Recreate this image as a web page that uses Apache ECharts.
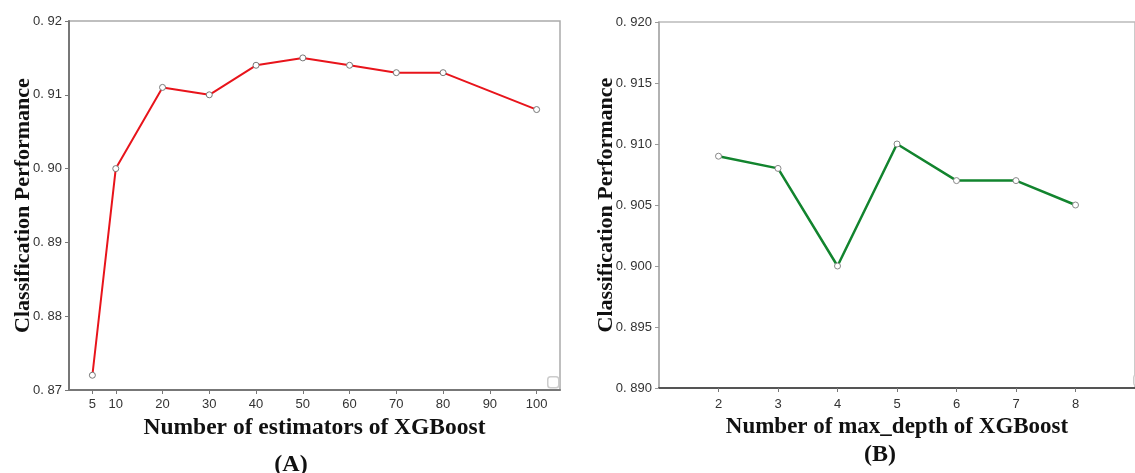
<!DOCTYPE html>
<html>
<head>
<meta charset="utf-8">
<script src="https://cdn.jsdelivr.net/npm/echarts@6/dist/echarts.min.js"></script>
<style>
  html, body { margin: 0; padding: 0; background: #fff; }
  #chart { width: 1135px; height: 473px; }
</style>
</head>
<body>
<div id="chart"></div>
<script>
// (A) number of estimators
const estimators = [5, 10, 20, 30, 40, 50, 60, 70, 80, 100];
const perfA = [0.872, 0.900, 0.911, 0.910, 0.914, 0.915, 0.914, 0.913, 0.913, 0.908];
const xTicksA = [5, 10, 20, 30, 40, 50, 60, 70, 80, 90, 100];

// (B) max_depth
const depths = [2, 3, 4, 5, 6, 7, 8];
const perfB = [0.909, 0.908, 0.900, 0.910, 0.907, 0.907, 0.905];
const xTicksB = [2, 3, 4, 5, 6, 7, 8];

const serif = 'Liberation Serif';
const tickFont = { fontFamily: 'Liberation Sans', fontSize: 13, color: '#333' };

function fmtY(digits) {
  return v => v.toFixed(digits).replace('.', '. ');
}

function pairs(xs, ys) {
  return xs.map((x, i) => [x, ys[i]]);
}

const chart = echarts.init(document.getElementById('chart'));

const option = {
  animation: false,
  backgroundColor: '#fff',
  title: [
    { text: '(A)', left: 286, top: 448, textAlign: 'center',
      textStyle: { fontFamily: serif, fontSize: 24, fontWeight: 'bold', color: '#111' } },
    { text: '(B)', left: 875, top: 438, textAlign: 'center',
      textStyle: { fontFamily: serif, fontSize: 24, fontWeight: 'bold', color: '#111' } }
  ],
  legend: [
    { data: ['n_estimators'], left: 542, top: 371, icon: 'roundRect', itemWidth: 11, itemHeight: 11,
      formatter: () => '', itemStyle: { color: '#fff', borderColor: '#ccc', borderWidth: 1.5 } },
    { data: ['max_depth'], left: 1128, top: 369, icon: 'roundRect', itemWidth: 11, itemHeight: 11,
      formatter: () => '', itemStyle: { color: '#fff', borderColor: '#ccc', borderWidth: 1.5 } }
  ],
  grid: [
    { left: 69, top: 21, width: 491, height: 369, show: true, borderColor: '#aaa', borderWidth: 1.5 },
    { left: 659, top: 22, width: 489, height: 366, show: true, borderColor: '#bbb', borderWidth: 1.5 }
  ],
  xAxis: [
    {
      gridIndex: 0, type: 'value', min: 0, max: 105,
      name: 'Number of estimators of XGBoost', nameLocation: 'middle', nameGap: 18,
      nameTextStyle: { fontFamily: serif, fontSize: 23.5, fontWeight: 'bold', color: '#111' },
      axisLine: { lineStyle: { color: '#777', width: 2 } },
      axisTick: { customValues: xTicksA, length: 4, lineStyle: { color: '#777' } },
      axisLabel: Object.assign({ customValues: xTicksA, margin: 8 }, tickFont),
      splitLine: { show: false }
    },
    {
      gridIndex: 1, type: 'value', min: 1, max: 9,
      name: 'Number of max_depth of XGBoost', nameLocation: 'middle', nameGap: 21,
      nameTextStyle: { fontFamily: serif, fontSize: 23, fontWeight: 'bold', color: '#111' },
      axisLine: { lineStyle: { color: '#555', width: 2 } },
      axisTick: { customValues: xTicksB, length: 4, lineStyle: { color: '#777' } },
      axisLabel: Object.assign({ customValues: xTicksB, margin: 10 }, tickFont),
      splitLine: { show: false }
    }
  ],
  yAxis: [
    {
      gridIndex: 0, type: 'value', min: 0.87, max: 0.92, interval: 0.01,
      name: 'Classification Performance', nameLocation: 'middle', nameGap: 35,
      nameMoveOverlap: false,
      nameTextStyle: { fontFamily: serif, fontSize: 22, fontWeight: 'bold', color: '#111' },
      axisLine: { show: true, lineStyle: { color: '#777', width: 2 } },
      axisTick: { show: true, length: 4, lineStyle: { color: '#777' } },
      axisLabel: Object.assign({ formatter: fmtY(2), margin: 7 }, tickFont),
      splitLine: { show: false }
    },
    {
      gridIndex: 1, type: 'value', min: 0.89, max: 0.92, interval: 0.005,
      name: 'Classification Performance', nameLocation: 'middle', nameGap: 42,
      nameMoveOverlap: false,
      nameTextStyle: { fontFamily: serif, fontSize: 22, fontWeight: 'bold', color: '#111' },
      axisLine: { show: true, lineStyle: { color: '#aaa', width: 1.5 } },
      axisTick: { show: true, length: 4, lineStyle: { color: '#999' } },
      axisLabel: Object.assign({ formatter: fmtY(3), margin: 7 }, tickFont),
      splitLine: { show: false }
    }
  ],
  series: [
    {
      name: 'n_estimators', type: 'line', xAxisIndex: 0, yAxisIndex: 0,
      data: pairs(estimators, perfA),
      symbol: 'circle', symbolSize: 6,
      itemStyle: { color: '#fff', borderColor: '#777', borderWidth: 1 },
      lineStyle: { color: '#e8141b', width: 2 }
    },
    {
      name: 'max_depth', type: 'line', xAxisIndex: 1, yAxisIndex: 1,
      data: pairs(depths, perfB),
      symbol: 'circle', symbolSize: 6,
      itemStyle: { color: '#fff', borderColor: '#888', borderWidth: 1 },
      lineStyle: { color: '#12842e', width: 2.5 }
    }
  ]
};

chart.setOption(option);
</script>
</body>
</html>
